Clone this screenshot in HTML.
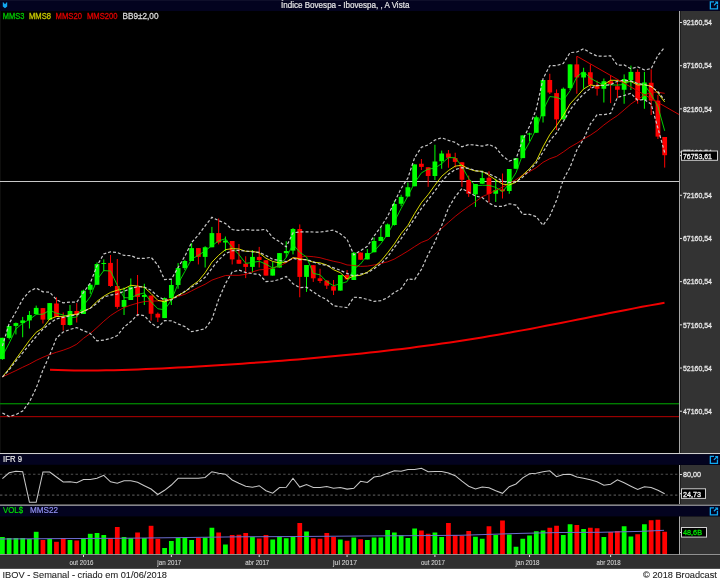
<!DOCTYPE html><html><head><meta charset="utf-8"><style>html,body{margin:0;padding:0;background:#000;}svg{display:block;}</style></head><body><svg width="720" height="580" viewBox="0 0 720 580" font-family='"Liberation Sans", sans-serif'>
<rect x="0" y="0" width="720" height="580" fill="#000"/>
<rect x="0" y="0" width="720" height="11" fill="#03031f"/>
<rect x="0" y="0" width="720" height="1" fill="#0f0f2a"/>
<text style="will-change:transform" x="281" y="8" font-size="8.6" fill="#e6e6e6" stroke="#e6e6e6" stroke-width="0.2" textLength="128.4" lengthAdjust="spacingAndGlyphs">Índice Bovespa - Ibovespa, , A Vista</text>
<path d="M3.3,2.2 L5,4.3 L6.7,2.2 L7.2,2.2 L7.2,6.5 L5,8.2 L2.8,6.5 L2.8,2.2 Z" fill="#12a6ee"/>
<g transform="translate(709.7,1.3)"><g fill="none" stroke="#10a8f0" stroke-width="1.3"><path d="M4.3,0.65 H0.65 V7.65 H7.75 V3.7"/><path d="M4.2,4.1 L7.2,1.1"/></g><path d="M5.0,0.2 H8.4 V3.6 Z" fill="#10a8f0"/></g>
<rect x="679" y="11" width="41" height="442" fill="#333333"/>
<rect x="679" y="11" width="1" height="442" fill="#a8a8a8"/>
<rect x="680" y="11" width="1" height="442" fill="#1e1e1e"/>
<rect x="0" y="11" width="1" height="442" fill="#0e0e0d"/>
<rect x="680" y="22.00" width="2" height="1" fill="#ddd"/>
<text style="will-change:transform" x="683" y="25.2" font-size="7.6" fill="#e8e8e8" stroke="#e8e8e8" stroke-width="0.28" textLength="29" lengthAdjust="spacingAndGlyphs">92160,54</text>
<rect x="680" y="65.19" width="2" height="1" fill="#ddd"/>
<text style="will-change:transform" x="683" y="68.39" font-size="7.6" fill="#e8e8e8" stroke="#e8e8e8" stroke-width="0.28" textLength="29" lengthAdjust="spacingAndGlyphs">87160,54</text>
<rect x="680" y="108.38" width="2" height="1" fill="#ddd"/>
<text style="will-change:transform" x="683" y="111.58" font-size="7.6" fill="#e8e8e8" stroke="#e8e8e8" stroke-width="0.28" textLength="29" lengthAdjust="spacingAndGlyphs">82160,54</text>
<rect x="680" y="151.57" width="2" height="1" fill="#ddd"/>
<text style="will-change:transform" x="683" y="154.76999999999998" font-size="7.6" fill="#e8e8e8" stroke="#e8e8e8" stroke-width="0.28" textLength="29" lengthAdjust="spacingAndGlyphs">77160,54</text>
<rect x="680" y="194.76" width="2" height="1" fill="#ddd"/>
<text style="will-change:transform" x="683" y="197.95999999999998" font-size="7.6" fill="#e8e8e8" stroke="#e8e8e8" stroke-width="0.28" textLength="29" lengthAdjust="spacingAndGlyphs">72160,54</text>
<rect x="680" y="237.95" width="2" height="1" fill="#ddd"/>
<text style="will-change:transform" x="683" y="241.14999999999998" font-size="7.6" fill="#e8e8e8" stroke="#e8e8e8" stroke-width="0.28" textLength="29" lengthAdjust="spacingAndGlyphs">67160,54</text>
<rect x="680" y="281.14" width="2" height="1" fill="#ddd"/>
<text style="will-change:transform" x="683" y="284.34" font-size="7.6" fill="#e8e8e8" stroke="#e8e8e8" stroke-width="0.28" textLength="29" lengthAdjust="spacingAndGlyphs">62160,54</text>
<rect x="680" y="324.33" width="2" height="1" fill="#ddd"/>
<text style="will-change:transform" x="683" y="327.53" font-size="7.6" fill="#e8e8e8" stroke="#e8e8e8" stroke-width="0.28" textLength="29" lengthAdjust="spacingAndGlyphs">57160,54</text>
<rect x="680" y="367.52" width="2" height="1" fill="#ddd"/>
<text style="will-change:transform" x="683" y="370.71999999999997" font-size="7.6" fill="#e8e8e8" stroke="#e8e8e8" stroke-width="0.28" textLength="29" lengthAdjust="spacingAndGlyphs">52160,54</text>
<rect x="680" y="410.71" width="2" height="1" fill="#ddd"/>
<text style="will-change:transform" x="683" y="413.90999999999997" font-size="7.6" fill="#e8e8e8" stroke="#e8e8e8" stroke-width="0.28" textLength="29" lengthAdjust="spacingAndGlyphs">47160,54</text>
<text style="will-change:transform" x="2.8" y="18.8" font-size="8.6" fill="#00c800" stroke="#00c800" stroke-width="0.3" textLength="21.6" lengthAdjust="spacingAndGlyphs">MMS3</text>
<text style="will-change:transform" x="29" y="18.8" font-size="8.6" fill="#c8c800" stroke="#c8c800" stroke-width="0.3" textLength="22" lengthAdjust="spacingAndGlyphs">MMS8</text>
<text style="will-change:transform" x="55.6" y="18.8" font-size="8.6" fill="#e00000" stroke="#e00000" stroke-width="0.3" textLength="26.3" lengthAdjust="spacingAndGlyphs">MMS20</text>
<text style="will-change:transform" x="86.9" y="18.8" font-size="8.6" fill="#e00000" stroke="#e00000" stroke-width="0.3" textLength="30.6" lengthAdjust="spacingAndGlyphs">MMS200</text>
<text style="will-change:transform" x="122.5" y="18.8" font-size="8.6" fill="#d8d8d8" stroke="#d8d8d8" stroke-width="0.3" textLength="36" lengthAdjust="spacingAndGlyphs">BB9±2,00</text>
<rect x="0" y="181" width="679" height="1" fill="#c8c8c8"/>
<rect x="0" y="403" width="679" height="1.4" fill="#007c00"/>
<rect x="0" y="416" width="679" height="1.2" fill="#980000"/>
<polyline points="50.0,369.71 58.0,370.02 66.0,370.24 74.0,370.38 82.0,370.45 90.0,370.46 98.0,370.41 106.0,370.30 114.0,370.15 122.0,369.94 130.0,369.70 138.0,369.43 146.0,369.11 154.0,368.77 162.0,368.40 170.0,368.01 178.0,367.60 186.0,367.16 194.0,366.70 202.0,366.23 210.0,365.74 218.0,365.24 226.0,364.72 234.0,364.18 242.0,363.63 250.0,363.07 258.0,362.49 266.0,361.90 274.0,361.30 282.0,360.68 290.0,360.04 298.0,359.38 306.0,358.71 314.0,358.02 322.0,357.31 330.0,356.58 338.0,355.83 346.0,355.05 354.0,354.25 362.0,353.43 370.0,352.58 378.0,351.70 386.0,350.79 394.0,349.86 402.0,348.89 410.0,347.89 418.0,346.86 426.0,345.80 434.0,344.70 442.0,343.57 450.0,342.40 458.0,341.20 466.0,339.97 474.0,338.70 482.0,337.39 490.0,336.06 498.0,334.69 506.0,333.28 514.0,331.85 522.0,330.39 530.0,328.90 538.0,327.38 546.0,325.84 554.0,324.28 562.0,322.71 570.0,321.11 578.0,319.51 586.0,317.90 594.0,316.29 602.0,314.68 610.0,313.07 618.0,311.48 626.0,309.91 634.0,308.36 642.0,306.84 650.0,305.36 658.0,303.93 664.5,302.81" fill="none" stroke="#f00000" stroke-width="2.0"/>
<rect x="1.90" y="337.8" width="1" height="21.90" fill="#00ff00"/>
<rect x="0.02" y="337.8" width="4.75" height="21.30" fill="#00ff00"/>
<rect x="8.66" y="326.0" width="1" height="13.40" fill="#00ff00"/>
<rect x="6.78" y="326.0" width="4.75" height="11.90" fill="#00ff00"/>
<rect x="15.42" y="322.5" width="1" height="11.90" fill="#00ff00"/>
<rect x="13.54" y="323.1" width="4.75" height="2.80" fill="#00ff00"/>
<rect x="22.17" y="316.9" width="1" height="20.35" fill="#00ff00"/>
<rect x="20.30" y="320.4" width="4.75" height="2.70" fill="#00ff00"/>
<rect x="28.93" y="311.0" width="1" height="17.50" fill="#00ff00"/>
<rect x="27.06" y="315.0" width="4.75" height="5.40" fill="#00ff00"/>
<rect x="35.69" y="305.6" width="1" height="8.80" fill="#00ff00"/>
<rect x="33.81" y="307.9" width="4.75" height="6.20" fill="#00ff00"/>
<rect x="42.45" y="308.0" width="1" height="15.50" fill="#ff0000"/>
<rect x="40.57" y="308.1" width="4.75" height="11.50" fill="#ff0000"/>
<rect x="49.21" y="303.0" width="1" height="16.75" fill="#00ff00"/>
<rect x="47.33" y="303.1" width="4.75" height="16.65" fill="#00ff00"/>
<rect x="55.96" y="297.25" width="1" height="19.75" fill="#ff0000"/>
<rect x="54.09" y="303.5" width="4.75" height="13.40" fill="#ff0000"/>
<rect x="62.72" y="312.5" width="1" height="18.10" fill="#ff0000"/>
<rect x="60.85" y="316.9" width="4.75" height="8.10" fill="#ff0000"/>
<rect x="69.48" y="305.0" width="1" height="20.60" fill="#00ff00"/>
<rect x="67.61" y="311.0" width="4.75" height="14.00" fill="#00ff00"/>
<rect x="76.24" y="303.1" width="1" height="19.40" fill="#ff0000"/>
<rect x="74.36" y="311.0" width="4.75" height="4.00" fill="#ff0000"/>
<rect x="83.00" y="289.75" width="1" height="24.25" fill="#00ff00"/>
<rect x="81.12" y="290.6" width="4.75" height="23.40" fill="#00ff00"/>
<rect x="89.75" y="283.5" width="1" height="10.25" fill="#00ff00"/>
<rect x="87.88" y="284.75" width="4.75" height="5.00" fill="#00ff00"/>
<rect x="96.51" y="262.5" width="1" height="22.25" fill="#00ff00"/>
<rect x="94.64" y="264.0" width="4.75" height="20.75" fill="#00ff00"/>
<rect x="103.27" y="259.4" width="1" height="11.85" fill="#00ff00"/>
<rect x="101.40" y="263.0" width="4.75" height="1.00" fill="#00ff00"/>
<rect x="110.03" y="255.0" width="1" height="31.90" fill="#ff0000"/>
<rect x="108.15" y="262.9" width="4.75" height="23.10" fill="#ff0000"/>
<rect x="116.79" y="259.0" width="1" height="49.75" fill="#ff0000"/>
<rect x="114.91" y="286.0" width="4.75" height="20.90" fill="#ff0000"/>
<rect x="123.54" y="287.5" width="1" height="27.50" fill="#00ff00"/>
<rect x="121.67" y="300.0" width="4.75" height="6.90" fill="#00ff00"/>
<rect x="130.30" y="278.5" width="1" height="21.50" fill="#00ff00"/>
<rect x="128.43" y="286.9" width="4.75" height="13.10" fill="#00ff00"/>
<rect x="137.06" y="275.0" width="1" height="41.25" fill="#ff0000"/>
<rect x="135.19" y="286.9" width="4.75" height="10.00" fill="#ff0000"/>
<rect x="143.82" y="283.75" width="1" height="21.25" fill="#00ff00"/>
<rect x="141.94" y="295.0" width="4.75" height="1.90" fill="#00ff00"/>
<rect x="150.58" y="295.6" width="1" height="25.00" fill="#ff0000"/>
<rect x="148.70" y="295.6" width="4.75" height="18.15" fill="#ff0000"/>
<rect x="157.33" y="312.5" width="1" height="9.50" fill="#ff0000"/>
<rect x="155.46" y="313.75" width="4.75" height="3.75" fill="#ff0000"/>
<rect x="164.09" y="297.5" width="1" height="20.60" fill="#00ff00"/>
<rect x="162.22" y="298.1" width="4.75" height="20.00" fill="#00ff00"/>
<rect x="170.85" y="279.4" width="1" height="25.60" fill="#00ff00"/>
<rect x="168.97" y="285.0" width="4.75" height="13.10" fill="#00ff00"/>
<rect x="177.61" y="263.1" width="1" height="25.65" fill="#00ff00"/>
<rect x="175.73" y="268.1" width="4.75" height="16.90" fill="#00ff00"/>
<rect x="184.37" y="259.75" width="1" height="10.25" fill="#00ff00"/>
<rect x="182.49" y="261.0" width="4.75" height="7.10" fill="#00ff00"/>
<rect x="191.12" y="243.1" width="1" height="17.90" fill="#00ff00"/>
<rect x="189.25" y="248.1" width="4.75" height="12.90" fill="#00ff00"/>
<rect x="197.88" y="248.1" width="1" height="16.30" fill="#ff0000"/>
<rect x="196.01" y="248.1" width="4.75" height="8.80" fill="#ff0000"/>
<rect x="204.64" y="246.25" width="1" height="21.25" fill="#00ff00"/>
<rect x="202.77" y="247.25" width="4.75" height="9.65" fill="#00ff00"/>
<rect x="211.40" y="226.9" width="1" height="20.35" fill="#00ff00"/>
<rect x="209.52" y="233.1" width="4.75" height="14.15" fill="#00ff00"/>
<rect x="218.16" y="218.5" width="1" height="25.90" fill="#ff0000"/>
<rect x="216.28" y="233.1" width="4.75" height="9.40" fill="#ff0000"/>
<rect x="224.91" y="236.5" width="1" height="14.75" fill="#00ff00"/>
<rect x="223.04" y="240.6" width="4.75" height="1.90" fill="#00ff00"/>
<rect x="231.67" y="241.0" width="1" height="23.40" fill="#ff0000"/>
<rect x="229.80" y="241.0" width="4.75" height="18.40" fill="#ff0000"/>
<rect x="238.43" y="244.0" width="1" height="19.75" fill="#ff0000"/>
<rect x="236.56" y="259.75" width="4.75" height="4.00" fill="#ff0000"/>
<rect x="245.19" y="256.25" width="1" height="21.85" fill="#ff0000"/>
<rect x="243.31" y="263.75" width="4.75" height="3.15" fill="#ff0000"/>
<rect x="251.95" y="250.0" width="1" height="22.50" fill="#00ff00"/>
<rect x="250.07" y="256.9" width="4.75" height="10.00" fill="#00ff00"/>
<rect x="258.70" y="246.9" width="1" height="20.60" fill="#ff0000"/>
<rect x="256.83" y="256.9" width="4.75" height="3.10" fill="#ff0000"/>
<rect x="265.46" y="260.25" width="1" height="15.35" fill="#ff0000"/>
<rect x="263.59" y="260.25" width="4.75" height="15.35" fill="#ff0000"/>
<rect x="272.22" y="261.9" width="1" height="13.70" fill="#00ff00"/>
<rect x="270.34" y="268.5" width="4.75" height="7.10" fill="#00ff00"/>
<rect x="278.98" y="253.1" width="1" height="14.40" fill="#00ff00"/>
<rect x="277.10" y="253.1" width="4.75" height="14.40" fill="#00ff00"/>
<rect x="285.74" y="241.25" width="1" height="16.25" fill="#00ff00"/>
<rect x="283.86" y="251.0" width="4.75" height="2.10" fill="#00ff00"/>
<rect x="292.49" y="228.1" width="1" height="26.30" fill="#00ff00"/>
<rect x="290.62" y="229.0" width="4.75" height="21.60" fill="#00ff00"/>
<rect x="299.25" y="224.4" width="1" height="72.85" fill="#ff0000"/>
<rect x="297.38" y="229.0" width="4.75" height="47.90" fill="#ff0000"/>
<rect x="306.01" y="265.0" width="1" height="26.90" fill="#00ff00"/>
<rect x="304.13" y="265.0" width="4.75" height="11.90" fill="#00ff00"/>
<rect x="312.77" y="265.0" width="1" height="16.90" fill="#ff0000"/>
<rect x="310.89" y="265.2" width="4.75" height="13.10" fill="#ff0000"/>
<rect x="319.53" y="268.75" width="1" height="14.35" fill="#ff0000"/>
<rect x="317.65" y="278.3" width="4.75" height="2.70" fill="#ff0000"/>
<rect x="326.28" y="280.0" width="1" height="9.00" fill="#ff0000"/>
<rect x="324.41" y="280.6" width="4.75" height="5.00" fill="#ff0000"/>
<rect x="333.04" y="280.0" width="1" height="15.00" fill="#ff0000"/>
<rect x="331.17" y="286.25" width="4.75" height="4.35" fill="#ff0000"/>
<rect x="339.80" y="275.0" width="1" height="15.60" fill="#00ff00"/>
<rect x="337.92" y="275.0" width="4.75" height="15.60" fill="#00ff00"/>
<rect x="346.56" y="270.0" width="1" height="9.40" fill="#ff0000"/>
<rect x="344.68" y="275.0" width="4.75" height="4.40" fill="#ff0000"/>
<rect x="353.32" y="251.9" width="1" height="28.10" fill="#00ff00"/>
<rect x="351.44" y="252.75" width="4.75" height="27.25" fill="#00ff00"/>
<rect x="360.07" y="252.5" width="1" height="7.25" fill="#ff0000"/>
<rect x="358.20" y="252.6" width="4.75" height="7.15" fill="#ff0000"/>
<rect x="366.83" y="249.0" width="1" height="10.40" fill="#00ff00"/>
<rect x="364.96" y="253.1" width="4.75" height="6.30" fill="#00ff00"/>
<rect x="373.59" y="237.5" width="1" height="14.75" fill="#00ff00"/>
<rect x="371.71" y="241.0" width="4.75" height="11.25" fill="#00ff00"/>
<rect x="380.35" y="226.9" width="1" height="14.10" fill="#00ff00"/>
<rect x="378.47" y="236.9" width="4.75" height="4.10" fill="#00ff00"/>
<rect x="387.11" y="223.5" width="1" height="13.40" fill="#00ff00"/>
<rect x="385.23" y="224.4" width="4.75" height="12.50" fill="#00ff00"/>
<rect x="393.86" y="200.6" width="1" height="25.00" fill="#00ff00"/>
<rect x="391.99" y="204.0" width="4.75" height="21.00" fill="#00ff00"/>
<rect x="400.62" y="194.75" width="1" height="11.50" fill="#00ff00"/>
<rect x="398.75" y="196.9" width="4.75" height="6.85" fill="#00ff00"/>
<rect x="407.38" y="182.5" width="1" height="14.00" fill="#00ff00"/>
<rect x="405.50" y="187.25" width="4.75" height="9.25" fill="#00ff00"/>
<rect x="414.14" y="164.4" width="1" height="21.85" fill="#00ff00"/>
<rect x="412.26" y="164.4" width="4.75" height="21.85" fill="#00ff00"/>
<rect x="420.90" y="159.0" width="1" height="11.00" fill="#ff0000"/>
<rect x="419.02" y="163.75" width="4.75" height="3.15" fill="#ff0000"/>
<rect x="427.65" y="167.25" width="1" height="19.65" fill="#ff0000"/>
<rect x="425.78" y="167.25" width="4.75" height="8.75" fill="#ff0000"/>
<rect x="434.41" y="144.75" width="1" height="35.25" fill="#00ff00"/>
<rect x="432.54" y="161.5" width="4.75" height="14.50" fill="#00ff00"/>
<rect x="441.17" y="150.6" width="1" height="18.15" fill="#00ff00"/>
<rect x="439.29" y="153.5" width="4.75" height="7.75" fill="#00ff00"/>
<rect x="447.93" y="150.0" width="1" height="17.75" fill="#ff0000"/>
<rect x="446.05" y="153.5" width="4.75" height="4.25" fill="#ff0000"/>
<rect x="454.69" y="152.75" width="1" height="14.75" fill="#ff0000"/>
<rect x="452.81" y="158.1" width="4.75" height="3.80" fill="#ff0000"/>
<rect x="461.44" y="162.25" width="1" height="24.65" fill="#ff0000"/>
<rect x="459.57" y="162.25" width="4.75" height="17.50" fill="#ff0000"/>
<rect x="468.20" y="175.6" width="1" height="21.30" fill="#ff0000"/>
<rect x="466.33" y="180.0" width="4.75" height="13.75" fill="#ff0000"/>
<rect x="474.96" y="184.0" width="1" height="22.90" fill="#00ff00"/>
<rect x="473.08" y="184.0" width="4.75" height="10.40" fill="#00ff00"/>
<rect x="481.72" y="170.6" width="1" height="13.15" fill="#00ff00"/>
<rect x="479.84" y="178.1" width="4.75" height="5.65" fill="#00ff00"/>
<rect x="488.48" y="171.25" width="1" height="31.25" fill="#ff0000"/>
<rect x="486.60" y="177.75" width="4.75" height="16.25" fill="#ff0000"/>
<rect x="495.23" y="178.75" width="1" height="23.15" fill="#00ff00"/>
<rect x="493.36" y="190.0" width="4.75" height="3.75" fill="#00ff00"/>
<rect x="501.99" y="173.5" width="1" height="25.00" fill="#ff0000"/>
<rect x="500.12" y="189.4" width="4.75" height="1.85" fill="#ff0000"/>
<rect x="508.75" y="169.0" width="1" height="24.75" fill="#00ff00"/>
<rect x="506.88" y="169.0" width="4.75" height="22.00" fill="#00ff00"/>
<rect x="515.51" y="158.1" width="1" height="10.65" fill="#00ff00"/>
<rect x="513.63" y="158.1" width="4.75" height="10.65" fill="#00ff00"/>
<rect x="522.27" y="135.4" width="1" height="22.70" fill="#00ff00"/>
<rect x="520.39" y="135.4" width="4.75" height="22.70" fill="#00ff00"/>
<rect x="529.02" y="132.75" width="1" height="8.50" fill="#00ff00"/>
<rect x="527.15" y="133.5" width="4.75" height="1.00" fill="#00ff00"/>
<rect x="535.78" y="115.6" width="1" height="17.15" fill="#00ff00"/>
<rect x="533.91" y="117.25" width="4.75" height="15.50" fill="#00ff00"/>
<rect x="542.54" y="80.0" width="1" height="42.50" fill="#00ff00"/>
<rect x="540.66" y="80.0" width="4.75" height="36.25" fill="#00ff00"/>
<rect x="549.30" y="73.75" width="1" height="20.25" fill="#ff0000"/>
<rect x="547.42" y="80.0" width="4.75" height="12.50" fill="#ff0000"/>
<rect x="556.06" y="89.4" width="1" height="40.60" fill="#ff0000"/>
<rect x="554.18" y="93.1" width="4.75" height="26.30" fill="#ff0000"/>
<rect x="562.81" y="87.5" width="1" height="31.90" fill="#00ff00"/>
<rect x="560.94" y="88.75" width="4.75" height="30.65" fill="#00ff00"/>
<rect x="569.57" y="64.4" width="1" height="25.60" fill="#00ff00"/>
<rect x="567.70" y="64.4" width="4.75" height="23.70" fill="#00ff00"/>
<rect x="576.33" y="56.25" width="1" height="37.50" fill="#ff0000"/>
<rect x="574.45" y="64.4" width="4.75" height="13.10" fill="#ff0000"/>
<rect x="583.09" y="67.75" width="1" height="21.00" fill="#00ff00"/>
<rect x="581.21" y="72.25" width="4.75" height="5.25" fill="#00ff00"/>
<rect x="589.85" y="64.4" width="1" height="23.70" fill="#ff0000"/>
<rect x="587.97" y="72.25" width="4.75" height="12.50" fill="#ff0000"/>
<rect x="596.60" y="80.6" width="1" height="15.00" fill="#ff0000"/>
<rect x="594.73" y="86.25" width="4.75" height="2.50" fill="#ff0000"/>
<rect x="603.36" y="78.5" width="1" height="24.00" fill="#00ff00"/>
<rect x="601.49" y="81.25" width="4.75" height="7.50" fill="#00ff00"/>
<rect x="610.12" y="75.0" width="1" height="28.10" fill="#ff0000"/>
<rect x="608.25" y="81.25" width="4.75" height="3.15" fill="#ff0000"/>
<rect x="616.88" y="81.9" width="1" height="16.20" fill="#ff0000"/>
<rect x="615.00" y="86.25" width="4.75" height="3.50" fill="#ff0000"/>
<rect x="623.64" y="74.4" width="1" height="29.35" fill="#00ff00"/>
<rect x="621.76" y="79.0" width="4.75" height="10.75" fill="#00ff00"/>
<rect x="630.39" y="65.6" width="1" height="24.40" fill="#00ff00"/>
<rect x="628.52" y="71.9" width="4.75" height="8.10" fill="#00ff00"/>
<rect x="637.15" y="69.4" width="1" height="34.35" fill="#ff0000"/>
<rect x="635.28" y="71.9" width="4.75" height="28.10" fill="#ff0000"/>
<rect x="643.91" y="71.9" width="1" height="36.85" fill="#00ff00"/>
<rect x="642.03" y="82.5" width="4.75" height="17.50" fill="#00ff00"/>
<rect x="650.67" y="69.4" width="1" height="45.60" fill="#ff0000"/>
<rect x="648.79" y="82.75" width="4.75" height="17.85" fill="#ff0000"/>
<rect x="657.43" y="95.0" width="1" height="44.00" fill="#ff0000"/>
<rect x="655.55" y="100.6" width="4.75" height="36.00" fill="#ff0000"/>
<rect x="664.18" y="137.0" width="1" height="30.60" fill="#ff0000"/>
<rect x="662.31" y="137.0" width="4.75" height="18.20" fill="#ff0000"/>
<polyline points="2.40,377.00 9.16,373.75 15.92,370.60 22.67,367.25 29.43,364.10 36.19,360.40 42.95,357.25 49.71,354.50 56.46,352.25 63.22,350.20 69.98,347.70 76.74,344.20 83.50,338.30 90.25,333.50 97.01,327.50 103.77,321.25 110.53,315.60 117.29,311.25 124.04,307.50 130.80,305.15 137.56,303.10 144.32,301.55 151.08,301.08 157.83,300.94 164.59,300.09 171.35,298.95 178.11,296.38 184.87,294.27 191.62,290.83 198.38,287.43 205.14,284.24 211.90,280.14 218.66,277.74 225.41,275.53 232.17,275.30 238.93,275.34 245.69,274.38 252.45,271.88 259.20,269.88 265.96,269.32 272.72,267.90 279.48,265.80 286.24,262.67 292.99,258.24 299.75,257.18 306.51,256.18 313.27,256.69 320.03,257.69 326.78,259.56 333.54,261.25 340.30,262.64 347.06,264.95 353.82,265.47 360.57,266.42 367.33,266.11 374.09,264.97 380.85,263.47 387.61,261.84 394.36,259.04 401.12,255.11 407.88,251.05 414.64,246.61 421.40,242.41 428.15,239.76 434.91,233.99 441.67,228.41 448.43,222.38 455.19,216.43 461.94,211.14 468.70,206.29 475.46,201.75 482.22,196.68 488.98,193.74 495.73,190.25 502.49,187.16 509.25,183.56 516.01,179.62 522.77,175.17 529.52,171.65 536.28,167.67 543.04,162.30 549.80,158.71 556.56,156.33 563.31,151.97 570.07,147.12 576.83,143.31 583.59,139.04 590.35,135.18 597.10,130.63 603.86,125.01 610.62,120.03 617.38,115.61 624.14,109.86 630.89,103.95 637.65,99.39 644.41,95.07 651.17,92.19 657.93,92.25 664.68,93.34" fill="none" stroke="#e00000" stroke-width="0.85"/>
<polyline points="2.40,377.00 9.16,368.50 15.92,359.10 22.67,349.75 29.43,340.40 36.19,332.25 42.95,327.90 49.71,319.11 56.46,316.50 63.22,316.38 69.98,314.86 76.74,314.19 83.50,311.14 90.25,308.24 97.01,301.29 103.77,296.28 110.53,292.42 117.29,290.16 124.04,288.78 130.80,285.27 137.56,286.06 144.32,287.34 151.08,293.56 157.83,300.37 164.59,301.88 171.35,299.14 178.11,295.16 184.87,291.92 191.62,285.82 198.38,281.06 205.14,272.74 211.90,262.19 218.66,255.24 225.41,249.69 232.17,248.61 238.93,248.95 245.69,251.30 252.45,251.30 259.20,252.89 265.96,258.21 272.72,261.46 279.48,263.02 286.24,261.97 292.99,257.62 299.75,258.88 306.51,259.89 313.27,262.18 320.03,262.85 326.78,264.99 333.54,269.68 340.30,272.68 347.06,278.98 353.82,275.96 360.57,275.30 367.33,272.15 374.09,267.15 380.85,261.06 387.61,252.79 394.36,243.91 401.12,233.60 407.88,225.41 414.64,213.49 421.40,202.72 428.15,194.59 434.91,185.17 441.67,176.31 448.43,170.53 455.19,166.15 461.94,165.21 468.70,168.88 475.46,171.02 482.22,171.28 488.98,175.34 495.73,179.91 502.49,184.09 509.25,184.98 516.01,182.28 522.77,174.98 529.52,168.67 536.28,161.06 543.04,146.81 549.80,134.62 556.56,125.64 563.31,115.61 570.07,103.90 576.83,96.66 583.59,89.01 590.35,84.94 597.10,86.04 603.86,84.63 610.62,80.26 617.38,80.38 624.14,82.21 630.89,81.51 637.65,84.97 644.41,84.69 651.17,86.17 657.93,93.09 664.68,101.94" fill="none" stroke="#f0f000" stroke-width="0.9"/>
<polyline points="2.40,356.00 9.16,343.30 15.92,328.97 22.67,323.17 29.43,319.50 36.19,314.43 42.95,314.17 49.71,310.20 56.46,313.20 63.22,315.00 69.98,317.63 76.74,317.00 83.50,305.53 90.25,296.78 97.01,279.78 103.77,270.58 110.53,271.00 117.29,285.30 124.04,297.63 130.80,297.93 137.56,294.60 144.32,292.93 151.08,301.88 157.83,308.75 164.59,309.78 171.35,300.20 178.11,283.73 184.87,271.37 191.62,259.07 198.38,255.33 205.14,250.75 211.90,245.75 218.66,240.95 225.41,238.73 232.17,247.50 238.93,254.58 245.69,263.35 252.45,262.52 259.20,261.27 265.96,264.17 272.72,268.03 279.48,265.73 286.24,257.53 292.99,244.37 299.75,252.30 306.51,256.97 313.27,273.40 320.03,274.77 326.78,281.63 333.54,285.73 340.30,283.73 347.06,281.67 353.82,269.05 360.57,263.97 367.33,255.20 374.09,251.28 380.85,243.67 387.61,234.10 394.36,221.77 401.12,208.43 407.88,196.05 414.64,182.85 421.40,172.85 428.15,169.10 434.91,168.13 441.67,163.67 448.43,157.58 455.19,157.72 461.94,166.47 468.70,178.47 475.46,185.83 482.22,185.28 488.98,185.37 495.73,187.37 502.49,191.75 509.25,183.42 516.01,172.78 522.77,154.17 529.52,142.33 536.28,128.72 543.04,110.25 549.80,96.58 556.56,97.30 563.31,100.22 570.07,90.85 576.83,76.88 583.59,71.38 590.35,78.17 597.10,81.92 603.86,84.92 610.62,84.80 617.38,85.13 624.14,84.38 630.89,80.22 637.65,83.63 644.41,84.80 651.17,94.37 657.93,106.57 664.68,130.80" fill="none" stroke="#00f000" stroke-width="0.85"/>
<polyline points="2.40,346.00 9.16,323.50 15.92,311.80 22.67,299.30 29.43,291.40 36.19,288.00 42.95,291.80 49.71,292.25 56.46,299.80 63.22,302.86 69.98,302.08 76.74,302.20 83.50,292.45 90.25,283.02 97.01,265.81 103.77,253.97 110.53,251.80 117.29,252.50 124.04,255.43 130.80,255.57 137.56,258.39 144.32,258.47 151.08,257.26 157.83,265.05 164.59,279.58 171.35,279.16 178.11,267.56 184.87,256.10 191.62,242.42 198.38,234.92 205.14,225.84 211.90,217.30 218.66,220.64 225.41,223.47 232.17,229.47 238.93,230.44 245.69,229.40 252.45,230.19 259.20,230.13 265.96,229.32 272.72,237.58 279.48,241.57 286.24,246.92 292.99,232.91 299.75,231.90 306.51,231.88 313.27,231.99 320.03,232.10 326.78,231.10 333.54,230.03 340.30,233.77 347.06,239.30 353.82,254.87 360.57,250.65 367.33,246.28 374.09,235.92 380.85,226.92 387.61,216.34 394.36,202.33 401.12,188.50 407.88,178.06 414.64,157.68 421.40,147.27 428.15,144.92 434.91,140.04 441.67,137.75 448.43,140.34 455.19,142.43 461.94,146.79 468.70,144.60 475.46,145.10 482.22,146.09 488.98,144.54 495.73,147.55 502.49,155.85 509.25,161.05 516.01,158.94 522.77,139.69 529.52,126.35 536.28,109.20 543.04,78.77 549.80,65.57 556.56,65.58 563.31,63.46 570.07,52.62 576.83,51.99 583.59,48.77 590.35,52.95 597.10,56.04 603.86,56.27 610.62,55.79 617.38,65.17 624.14,64.95 630.89,68.81 637.65,66.86 644.41,69.96 651.17,68.65 657.93,55.46 664.68,47.20" fill="none" stroke="#c8c8c8" stroke-width="1.2" stroke-dasharray="3,2"/>
<polyline points="2.40,377.00 9.16,369.75 15.92,361.00 22.67,352.90 29.43,344.75 36.19,336.60 42.95,329.10 49.71,323.50 56.46,318.87 63.22,317.44 69.98,315.78 76.74,314.88 83.50,311.57 90.25,308.21 97.01,303.33 103.77,297.04 110.53,295.14 117.29,294.03 124.04,291.25 130.80,288.57 137.56,286.56 144.32,287.05 151.08,290.27 157.83,296.22 164.59,300.12 171.35,300.01 178.11,295.69 184.87,291.36 191.62,287.05 198.38,282.61 205.14,277.30 211.90,268.34 218.66,260.01 225.41,253.62 232.17,250.77 238.93,250.29 245.69,250.94 252.45,251.92 259.20,252.27 265.96,255.42 272.72,259.35 279.48,260.53 286.24,261.68 292.99,258.31 299.75,259.77 306.51,259.56 313.27,261.93 320.03,264.27 326.78,265.38 333.54,267.83 340.30,270.27 347.06,273.42 353.82,276.06 360.57,274.16 367.33,272.83 374.09,268.69 380.85,263.79 387.61,256.99 394.36,247.37 401.12,238.69 407.88,228.45 414.64,218.63 421.40,208.32 428.15,199.75 434.91,190.92 441.67,181.65 448.43,174.24 455.19,169.57 461.94,167.66 468.70,168.38 475.46,170.56 482.22,171.81 488.98,173.81 495.73,176.97 502.49,181.17 509.25,182.42 516.01,181.99 522.77,177.07 529.52,170.37 536.28,162.96 543.04,152.06 549.80,140.78 556.56,132.93 563.31,121.54 570.07,109.92 576.83,100.97 583.59,93.95 590.35,88.53 597.10,85.37 603.86,85.51 610.62,84.61 617.38,81.31 624.14,80.23 630.89,81.06 637.65,83.56 644.41,84.70 651.17,86.46 657.93,91.78 664.68,99.99" fill="none" stroke="#c8c8c8" stroke-width="1.2" stroke-dasharray="3,2"/>
<polyline points="2.40,413.00 9.16,416.50 15.92,414.60 22.67,411.00 29.43,402.00 36.19,388.00 42.95,370.00 49.71,355.00 56.46,337.93 63.22,332.03 69.98,329.47 76.74,327.56 83.50,330.68 90.25,333.40 97.01,340.85 103.77,340.11 110.53,338.48 117.29,335.55 124.04,327.07 130.80,321.58 137.56,314.73 144.32,315.63 151.08,323.29 157.83,327.38 164.59,320.65 171.35,320.85 178.11,323.83 184.87,326.62 191.62,331.68 198.38,330.29 205.14,328.76 211.90,319.38 218.66,299.37 225.41,283.76 232.17,272.07 238.93,270.14 245.69,272.49 252.45,273.66 259.20,274.40 265.96,281.51 272.72,281.12 279.48,279.49 286.24,276.45 292.99,283.70 299.75,287.64 306.51,287.23 313.27,291.87 320.03,296.43 326.78,299.65 333.54,305.64 340.30,306.76 347.06,307.54 353.82,297.25 360.57,297.66 367.33,299.39 374.09,301.46 380.85,300.66 387.61,297.64 394.36,292.40 401.12,288.88 407.88,278.84 414.64,279.58 421.40,269.37 428.15,254.58 434.91,241.79 441.67,225.55 448.43,208.15 455.19,196.70 461.94,188.54 468.70,192.17 475.46,196.02 482.22,197.52 488.98,203.07 495.73,206.39 502.49,206.48 509.25,203.78 516.01,205.05 522.77,214.45 529.52,214.39 536.28,216.71 543.04,225.34 549.80,215.99 556.56,200.29 563.31,179.63 570.07,167.23 576.83,149.94 583.59,139.13 590.35,124.12 597.10,114.69 603.86,114.74 610.62,113.42 617.38,97.45 624.14,95.51 630.89,93.32 637.65,100.26 644.41,99.44 651.17,104.28 657.93,128.10 664.68,152.79" fill="none" stroke="#c8c8c8" stroke-width="1.2" stroke-dasharray="3,2"/>
<polyline points="577,56.25 679,114.5" fill="none" stroke="#d00000" stroke-width="1"/>
<rect x="680" y="155.1" width="2" height="1" fill="#ddd"/>
<rect x="681.5" y="151" width="36" height="9.3" fill="#000" stroke="#d0d0d0" stroke-width="1"/>
<text style="will-change:transform" x="683" y="158.6" font-size="7.6" fill="#f4f4f4" stroke="#f4f4f4" stroke-width="0.3" textLength="29" lengthAdjust="spacingAndGlyphs">76753,61</text>
<rect x="0" y="453" width="720" height="1.2" fill="#d0d0d0"/>
<rect x="0" y="454.2" width="720" height="10.6" fill="#03031f"/>
<text style="will-change:transform" x="3" y="462" font-size="9.0" fill="#e6e6e6" stroke="#e6e6e6" stroke-width="0.2" textLength="19" lengthAdjust="spacingAndGlyphs">IFR 9</text>
<g transform="translate(709.7,455.8)"><g fill="none" stroke="#10a8f0" stroke-width="1.3"><path d="M4.3,0.65 H0.65 V7.65 H7.75 V3.7"/><path d="M4.2,4.1 L7.2,1.1"/></g><path d="M5.0,0.2 H8.4 V3.6 Z" fill="#10a8f0"/></g>
<rect x="679" y="465" width="41" height="39" fill="#333333"/>
<rect x="679" y="465" width="1" height="39" fill="#a8a8a8"/>
<rect x="680" y="465" width="1" height="39" fill="#1e1e1e"/>
<line x1="0" y1="474.2" x2="679" y2="474.2" stroke="#505050" stroke-width="1.1" stroke-dasharray="2.4,2.32"/>
<line x1="0" y1="495.1" x2="679" y2="495.1" stroke="#505050" stroke-width="1.1" stroke-dasharray="2.4,2.32"/>
<polyline points="2.40,478.70 9.16,472.80 15.92,471.20 22.67,471.70 29.43,502.30 36.19,502.30 42.95,472.00 49.71,472.00 56.46,477.00 63.22,482.00 69.98,481.70 76.74,482.80 83.50,479.50 90.25,479.50 97.01,478.30 103.77,475.30 110.53,481.80 117.29,483.20 124.04,480.80 130.80,480.80 137.56,482.30 144.32,485.70 151.08,489.00 157.83,494.50 164.59,490.30 171.35,485.00 178.11,478.30 184.87,478.30 191.62,478.30 198.38,478.20 205.14,477.50 211.90,471.70 218.66,473.30 225.41,474.20 232.17,480.00 238.93,483.30 245.69,486.20 252.45,487.30 259.20,485.70 265.96,490.70 272.72,493.20 279.48,487.50 286.24,487.30 292.99,478.30 299.75,487.00 306.51,484.50 313.27,487.50 320.03,487.50 326.78,486.50 333.54,488.20 340.30,487.60 347.06,489.10 353.82,488.25 360.57,481.30 367.33,482.40 374.09,477.00 380.85,475.90 387.61,473.20 394.36,470.70 401.12,471.20 407.88,469.50 414.64,469.50 421.40,468.30 428.15,471.70 434.91,471.50 441.67,471.50 448.43,473.00 455.19,475.70 461.94,481.20 468.70,486.20 475.46,489.00 482.22,487.00 488.98,487.80 495.73,490.70 502.49,493.30 509.25,486.70 516.01,484.00 522.77,477.80 529.52,473.70 536.28,473.20 543.04,471.70 549.80,470.80 556.56,476.70 563.31,474.50 570.07,474.30 576.83,477.00 583.59,478.20 590.35,479.80 597.10,481.70 603.86,485.30 610.62,484.20 617.38,479.80 624.14,482.80 630.89,486.20 637.65,489.50 644.41,486.70 651.17,487.50 657.93,490.30 664.68,493.70" fill="none" stroke="#c8c8c8" stroke-width="1.05"/>
<rect x="680" y="474" width="2" height="1" fill="#ddd"/>
<text style="will-change:transform" x="683" y="477.2" font-size="7.6" fill="#e8e8e8" stroke="#e8e8e8" stroke-width="0.28" textLength="18" lengthAdjust="spacingAndGlyphs">80,00</text>
<rect x="680" y="493.2" width="2" height="1" fill="#ddd"/>
<rect x="681.5" y="488.8" width="24" height="9.6" fill="#000" stroke="#d0d0d0" stroke-width="1"/>
<text style="will-change:transform" x="683" y="496.6" font-size="7.6" fill="#f4f4f4" stroke="#f4f4f4" stroke-width="0.3" textLength="18" lengthAdjust="spacingAndGlyphs">24,73</text>
<rect x="0" y="504.6" width="720" height="1.2" fill="#d0d0d0"/>
<rect x="0" y="505.8" width="720" height="10.6" fill="#03031f"/>
<text style="will-change:transform" x="3" y="512.9" font-size="8.8" fill="#00e000" stroke="#00e000" stroke-width="0.2" textLength="20" lengthAdjust="spacingAndGlyphs">VOL$</text>
<text style="will-change:transform" x="30" y="512.9" font-size="8.8" fill="#9090f0" stroke="#9090f0" stroke-width="0.2" textLength="28" lengthAdjust="spacingAndGlyphs">MMS22</text>
<g transform="translate(709.7,507.2)"><g fill="none" stroke="#10a8f0" stroke-width="1.3"><path d="M4.3,0.65 H0.65 V7.65 H7.75 V3.7"/><path d="M4.2,4.1 L7.2,1.1"/></g><path d="M5.0,0.2 H8.4 V3.6 Z" fill="#10a8f0"/></g>
<rect x="679" y="516.5" width="41" height="38" fill="#333333"/>
<rect x="679" y="516.5" width="1" height="38" fill="#a8a8a8"/>
<rect x="680" y="516.5" width="1" height="38" fill="#1e1e1e"/>
<rect x="0.02" y="537" width="4.75" height="17.20" fill="#00ff00"/>
<rect x="6.78" y="538" width="4.75" height="16.20" fill="#00ff00"/>
<rect x="13.54" y="538" width="4.75" height="16.20" fill="#00ff00"/>
<rect x="20.30" y="538" width="4.75" height="16.20" fill="#00ff00"/>
<rect x="27.06" y="539" width="4.75" height="15.20" fill="#00ff00"/>
<rect x="33.81" y="531.8" width="4.75" height="22.40" fill="#00ff00"/>
<rect x="40.57" y="540" width="4.75" height="14.20" fill="#ff0000"/>
<rect x="47.33" y="539" width="4.75" height="15.20" fill="#00ff00"/>
<rect x="54.09" y="541.8" width="4.75" height="12.40" fill="#ff0000"/>
<rect x="60.85" y="538" width="4.75" height="16.20" fill="#ff0000"/>
<rect x="67.61" y="540" width="4.75" height="14.20" fill="#00ff00"/>
<rect x="74.36" y="540.5" width="4.75" height="13.70" fill="#ff0000"/>
<rect x="81.12" y="538" width="4.75" height="16.20" fill="#00ff00"/>
<rect x="87.88" y="533.8" width="4.75" height="20.40" fill="#00ff00"/>
<rect x="94.64" y="533" width="4.75" height="21.20" fill="#00ff00"/>
<rect x="101.40" y="535" width="4.75" height="19.20" fill="#00ff00"/>
<rect x="108.15" y="538" width="4.75" height="16.20" fill="#ff0000"/>
<rect x="114.91" y="527" width="4.75" height="27.20" fill="#ff0000"/>
<rect x="121.67" y="537" width="4.75" height="17.20" fill="#00ff00"/>
<rect x="128.43" y="538" width="4.75" height="16.20" fill="#00ff00"/>
<rect x="135.19" y="532.5" width="4.75" height="21.70" fill="#ff0000"/>
<rect x="141.94" y="538" width="4.75" height="16.20" fill="#00ff00"/>
<rect x="148.70" y="525.8" width="4.75" height="28.40" fill="#ff0000"/>
<rect x="155.46" y="538.8" width="4.75" height="15.40" fill="#ff0000"/>
<rect x="162.22" y="548" width="4.75" height="6.20" fill="#00ff00"/>
<rect x="168.97" y="541" width="4.75" height="13.20" fill="#00ff00"/>
<rect x="175.73" y="538" width="4.75" height="16.20" fill="#00ff00"/>
<rect x="182.49" y="537.5" width="4.75" height="16.70" fill="#00ff00"/>
<rect x="189.25" y="540" width="4.75" height="14.20" fill="#00ff00"/>
<rect x="196.01" y="538" width="4.75" height="16.20" fill="#ff0000"/>
<rect x="202.77" y="537.5" width="4.75" height="16.70" fill="#00ff00"/>
<rect x="209.52" y="527.75" width="4.75" height="26.45" fill="#00ff00"/>
<rect x="216.28" y="532.5" width="4.75" height="21.70" fill="#ff0000"/>
<rect x="223.04" y="544.5" width="4.75" height="9.70" fill="#00ff00"/>
<rect x="229.80" y="535" width="4.75" height="19.20" fill="#ff0000"/>
<rect x="236.56" y="534.75" width="4.75" height="19.45" fill="#ff0000"/>
<rect x="243.31" y="533" width="4.75" height="21.20" fill="#ff0000"/>
<rect x="250.07" y="537" width="4.75" height="17.20" fill="#00ff00"/>
<rect x="256.83" y="538.5" width="4.75" height="15.70" fill="#ff0000"/>
<rect x="263.59" y="535" width="4.75" height="19.20" fill="#ff0000"/>
<rect x="270.34" y="539.5" width="4.75" height="14.70" fill="#00ff00"/>
<rect x="277.10" y="536.75" width="4.75" height="17.45" fill="#00ff00"/>
<rect x="283.86" y="538.25" width="4.75" height="15.95" fill="#00ff00"/>
<rect x="290.62" y="536.75" width="4.75" height="17.45" fill="#00ff00"/>
<rect x="297.38" y="523" width="4.75" height="31.20" fill="#ff0000"/>
<rect x="304.13" y="531.5" width="4.75" height="22.70" fill="#00ff00"/>
<rect x="310.89" y="538.25" width="4.75" height="15.95" fill="#ff0000"/>
<rect x="317.65" y="538.75" width="4.75" height="15.45" fill="#ff0000"/>
<rect x="324.41" y="533" width="4.75" height="21.20" fill="#ff0000"/>
<rect x="331.17" y="537" width="4.75" height="17.20" fill="#ff0000"/>
<rect x="337.92" y="539.5" width="4.75" height="14.70" fill="#00ff00"/>
<rect x="344.68" y="540.75" width="4.75" height="13.45" fill="#ff0000"/>
<rect x="351.44" y="537.5" width="4.75" height="16.70" fill="#00ff00"/>
<rect x="358.20" y="539.25" width="4.75" height="14.95" fill="#ff0000"/>
<rect x="364.96" y="540" width="4.75" height="14.20" fill="#00ff00"/>
<rect x="371.71" y="537.5" width="4.75" height="16.70" fill="#00ff00"/>
<rect x="378.47" y="537.5" width="4.75" height="16.70" fill="#00ff00"/>
<rect x="385.23" y="530" width="4.75" height="24.20" fill="#00ff00"/>
<rect x="391.99" y="532.5" width="4.75" height="21.70" fill="#00ff00"/>
<rect x="398.75" y="535.25" width="4.75" height="18.95" fill="#00ff00"/>
<rect x="405.50" y="538" width="4.75" height="16.20" fill="#00ff00"/>
<rect x="412.26" y="528.5" width="4.75" height="25.70" fill="#00ff00"/>
<rect x="419.02" y="530.5" width="4.75" height="23.70" fill="#ff0000"/>
<rect x="425.78" y="533.75" width="4.75" height="20.45" fill="#ff0000"/>
<rect x="432.54" y="532.5" width="4.75" height="21.70" fill="#00ff00"/>
<rect x="439.29" y="537" width="4.75" height="17.20" fill="#00ff00"/>
<rect x="446.05" y="523" width="4.75" height="31.20" fill="#ff0000"/>
<rect x="452.81" y="535" width="4.75" height="19.20" fill="#ff0000"/>
<rect x="459.57" y="535.75" width="4.75" height="18.45" fill="#ff0000"/>
<rect x="466.33" y="531" width="4.75" height="23.20" fill="#ff0000"/>
<rect x="473.08" y="536.75" width="4.75" height="17.45" fill="#00ff00"/>
<rect x="479.84" y="538.75" width="4.75" height="15.45" fill="#00ff00"/>
<rect x="486.60" y="526.25" width="4.75" height="27.95" fill="#ff0000"/>
<rect x="493.36" y="535" width="4.75" height="19.20" fill="#00ff00"/>
<rect x="500.12" y="520.5" width="4.75" height="33.70" fill="#ff0000"/>
<rect x="506.88" y="534.5" width="4.75" height="19.70" fill="#00ff00"/>
<rect x="513.63" y="546.75" width="4.75" height="7.45" fill="#00ff00"/>
<rect x="520.39" y="538.75" width="4.75" height="15.45" fill="#00ff00"/>
<rect x="527.15" y="535.5" width="4.75" height="18.70" fill="#00ff00"/>
<rect x="533.91" y="531.25" width="4.75" height="22.95" fill="#00ff00"/>
<rect x="540.66" y="530.5" width="4.75" height="23.70" fill="#00ff00"/>
<rect x="547.42" y="527.75" width="4.75" height="26.45" fill="#ff0000"/>
<rect x="554.18" y="525.75" width="4.75" height="28.45" fill="#ff0000"/>
<rect x="560.94" y="535" width="4.75" height="19.20" fill="#00ff00"/>
<rect x="567.70" y="524.25" width="4.75" height="29.95" fill="#00ff00"/>
<rect x="574.45" y="525" width="4.75" height="29.20" fill="#ff0000"/>
<rect x="581.21" y="529" width="4.75" height="25.20" fill="#00ff00"/>
<rect x="587.97" y="527.75" width="4.75" height="26.45" fill="#ff0000"/>
<rect x="594.73" y="528.25" width="4.75" height="25.95" fill="#ff0000"/>
<rect x="601.49" y="537" width="4.75" height="17.20" fill="#00ff00"/>
<rect x="608.25" y="532" width="4.75" height="22.20" fill="#ff0000"/>
<rect x="615.00" y="531" width="4.75" height="23.20" fill="#ff0000"/>
<rect x="621.76" y="526.25" width="4.75" height="27.95" fill="#00ff00"/>
<rect x="628.52" y="536.5" width="4.75" height="17.70" fill="#00ff00"/>
<rect x="635.28" y="534.25" width="4.75" height="19.95" fill="#ff0000"/>
<rect x="642.03" y="524.25" width="4.75" height="29.95" fill="#00ff00"/>
<rect x="648.79" y="520.25" width="4.75" height="33.95" fill="#ff0000"/>
<rect x="655.55" y="519.75" width="4.75" height="34.45" fill="#ff0000"/>
<rect x="662.31" y="531.75" width="4.75" height="22.45" fill="#ff0000"/>
<polyline points="0,539 60,538.6 120,538.3 180,537.6 240,536.8 300,536.5 360,536 420,535.6 460,535.3 520,533.4 560,532.5 600,532.3 640,531.4 664,530.3" fill="none" stroke="#6c6cd0" stroke-width="1"/>
<rect x="680" y="532" width="2" height="1" fill="#ddd"/>
<rect x="681.5" y="527.5" width="25" height="9.6" fill="#000" stroke="#d0d0d0" stroke-width="1"/>
<text style="will-change:transform" x="683" y="535.3" font-size="7.6" fill="#00e000" stroke="#00e000" stroke-width="0.3" textLength="19" lengthAdjust="spacingAndGlyphs">48,6B</text>
<rect x="0" y="554.2" width="720" height="1" fill="#b0b0b0"/>
<rect x="0" y="555.2" width="720" height="13.6" fill="#2f2f2f"/>
<rect x="83.00" y="555" width="1" height="2" fill="#ddd"/>
<text style="will-change:transform" x="81.50" y="565" font-size="7.6" fill="#d4d4d4" stroke="#d4d4d4" stroke-width="0.1" text-anchor="middle" textLength="24" lengthAdjust="spacingAndGlyphs">out 2016</text>
<rect x="170.85" y="555" width="1" height="2" fill="#ddd"/>
<text style="will-change:transform" x="169.35" y="565" font-size="7.6" fill="#d4d4d4" stroke="#d4d4d4" stroke-width="0.1" text-anchor="middle" textLength="24" lengthAdjust="spacingAndGlyphs">jan 2017</text>
<rect x="258.70" y="555" width="1" height="2" fill="#ddd"/>
<text style="will-change:transform" x="257.20" y="565" font-size="7.6" fill="#d4d4d4" stroke="#d4d4d4" stroke-width="0.1" text-anchor="middle" textLength="24" lengthAdjust="spacingAndGlyphs">abr 2017</text>
<rect x="346.56" y="555" width="1" height="2" fill="#ddd"/>
<text style="will-change:transform" x="345.06" y="565" font-size="7.6" fill="#d4d4d4" stroke="#d4d4d4" stroke-width="0.1" text-anchor="middle" textLength="24" lengthAdjust="spacingAndGlyphs">jul 2017</text>
<rect x="434.41" y="555" width="1" height="2" fill="#ddd"/>
<text style="will-change:transform" x="432.91" y="565" font-size="7.6" fill="#d4d4d4" stroke="#d4d4d4" stroke-width="0.1" text-anchor="middle" textLength="24" lengthAdjust="spacingAndGlyphs">out 2017</text>
<rect x="529.02" y="555" width="1" height="2" fill="#ddd"/>
<text style="will-change:transform" x="527.52" y="565" font-size="7.6" fill="#d4d4d4" stroke="#d4d4d4" stroke-width="0.1" text-anchor="middle" textLength="24" lengthAdjust="spacingAndGlyphs">jan 2018</text>
<rect x="610.12" y="555" width="1" height="2" fill="#ddd"/>
<text style="will-change:transform" x="608.62" y="565" font-size="7.6" fill="#d4d4d4" stroke="#d4d4d4" stroke-width="0.1" text-anchor="middle" textLength="24" lengthAdjust="spacingAndGlyphs">abr 2018</text>
<rect x="0" y="568.8" width="720" height="11.2" fill="#fff"/>
<text style="will-change:transform" x="2.5" y="578" font-size="9.6" fill="#1e1e1e" stroke="#1e1e1e" stroke-width="0.1" textLength="164.5" lengthAdjust="spacingAndGlyphs">IBOV - Semanal - criado em 01/06/2018</text>
<text style="will-change:transform" x="643.1" y="578" font-size="9.6" fill="#1e1e1e" stroke="#1e1e1e" stroke-width="0.1" textLength="73.8" lengthAdjust="spacingAndGlyphs">© 2018 Broadcast</text>
</svg></body></html>
